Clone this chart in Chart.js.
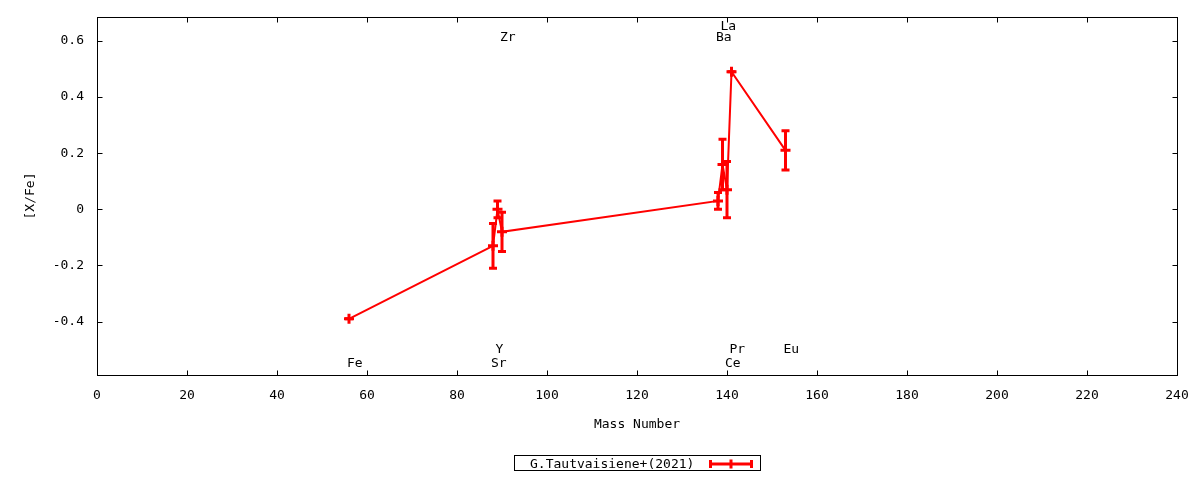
<!DOCTYPE html>
<html>
<head>
<meta charset="utf-8">
<script src="https://cdn.jsdelivr.net/npm/chart.js@4/dist/chart.umd.min.js"></script>
<style>
html,body{margin:0;padding:0;background:#fff;}
#wrap{width:1200px;height:480px;}
</style>
</head>
<body>
<div id="wrap"><canvas id="c" width="1200" height="480"></canvas></div>
<script>
const masses = [56, 88, 89, 90, 138, 139, 140, 141, 153];
const elements = ['Fe', 'Sr', 'Y', 'Zr', 'Ba', 'La', 'Ce', 'Pr', 'Eu'];
const abundances = [-0.39, -0.13, 0.00, -0.08, 0.03, 0.16, 0.07, 0.49, 0.21];
const errors = [0.00, 0.08, 0.03, 0.07, 0.03, 0.09, 0.10, 0.00, 0.07];
const labelLevels = [-0.55, -0.55, -0.5, 0.61, 0.61, 0.65, -0.55, -0.5, -0.5];
const xTicks = [0, 20, 40, 60, 80, 100, 120, 140, 160, 180, 200, 220, 240];
const yTicks = [-0.4, -0.2, 0, 0.2, 0.4, 0.6];
const seriesName = 'G.Tautvaisiene+(2021)';
const xTitle = 'Mass Number';
const yTitle = '[X/Fe]';

const FONT = '"DejaVu Sans Mono", "Liberation Mono", monospace';
const RED = '#ff0000';

const points = masses.map((m, i) => ({x: m, y: abundances[i]}));

const decorPlugin = {
  id: 'decor',
  afterDatasetsDraw(chart) {
    const ctx = chart.ctx;
    const xs = chart.scales.x, ys = chart.scales.y;
    ctx.save();
    ctx.strokeStyle = RED;
    ctx.lineWidth = 3;
    ctx.lineCap = 'butt';
    for (let i = 0; i < masses.length; i++) {
      const px = xs.getPixelForValue(masses[i]);
      const yTop = ys.getPixelForValue(abundances[i] + errors[i]);
      const yBot = ys.getPixelForValue(abundances[i] - errors[i]);
      ctx.beginPath();
      ctx.moveTo(px, yTop); ctx.lineTo(px, yBot);
      ctx.moveTo(px - 4, yTop); ctx.lineTo(px + 4, yTop);
      ctx.moveTo(px - 4, yBot); ctx.lineTo(px + 4, yBot);
      ctx.stroke();
    }
    ctx.restore();
  },
  afterDraw(chart) {
    const ctx = chart.ctx;
    const xs = chart.scales.x, ys = chart.scales.y;
    const a = chart.chartArea;
    ctx.save();
    ctx.strokeStyle = '#000';
    ctx.lineWidth = 1;
    const L = Math.round(a.left) + 0.5, R = Math.round(a.right) + 0.5;
    const T = Math.round(a.top) + 0.5, B = Math.round(a.bottom) + 0.5;
    ctx.strokeRect(L, T, R - L, B - T);
    ctx.beginPath();
    xTicks.forEach(v => {
      const px = Math.round(xs.getPixelForValue(v)) + 0.5;
      ctx.moveTo(px, B); ctx.lineTo(px, B - 5);
      ctx.moveTo(px, T); ctx.lineTo(px, T + 5);
    });
    yTicks.forEach(v => {
      const py = Math.round(ys.getPixelForValue(v)) + 0.5;
      ctx.moveTo(L, py); ctx.lineTo(L + 5, py);
      ctx.moveTo(R, py); ctx.lineTo(R - 5, py);
    });
    ctx.stroke();
    ctx.fillStyle = '#000';
    ctx.font = '13px ' + FONT;
    ctx.textAlign = 'left';
    ctx.textBaseline = 'middle';
    for (let i = 0; i < elements.length; i++) {
      ctx.fillText(elements[i], xs.getPixelForValue(masses[i]) - 2, ys.getPixelForValue(labelLevels[i]));
    }
    ctx.textAlign = 'center';
    ctx.fillText(xTitle, (a.left + a.right) / 2, 425);
    ctx.save();
    ctx.translate(31, (a.top + a.bottom) / 2);
    ctx.rotate(-Math.PI / 2);
    ctx.fillText(yTitle, 0, 0);
    ctx.restore();
    ctx.strokeStyle = '#000';
    ctx.lineWidth = 1;
    ctx.strokeRect(514.5, 455.5, 246, 15);
    ctx.textAlign = 'left';
    ctx.fillText(seriesName, 530, 464.5);
    ctx.strokeStyle = RED;
    ctx.lineWidth = 3;
    ctx.beginPath();
    ctx.moveTo(709, 464); ctx.lineTo(753, 464);
    ctx.moveTo(710.5, 460); ctx.lineTo(710.5, 468);
    ctx.moveTo(751.5, 460); ctx.lineTo(751.5, 468);
    ctx.moveTo(731, 459.5); ctx.lineTo(731, 468.5);
    ctx.stroke();
    ctx.restore();
  }
};

new Chart(document.getElementById('c'), {
  type: 'scatter',
  data: {
    datasets: [{
      label: seriesName,
      data: points,
      showLine: true,
      borderColor: RED,
      backgroundColor: RED,
      borderWidth: 2,
      pointStyle: 'cross',
      pointRadius: 5,
      pointBorderWidth: 3,
      pointBorderColor: RED,
      pointHoverRadius: 5,
      tension: 0
    }]
  },
  plugins: [decorPlugin],
  options: {
    responsive: false,
    animation: false,
    devicePixelRatio: 1,
    layout: {padding: {top: 17, right: 23, left: 0, bottom: 0}},
    plugins: {legend: {display: false}, tooltip: {enabled: false}},
    scales: {
      x: {
        type: 'linear',
        min: 0, max: 240,
        afterBuildTicks: s => { s.ticks = xTicks.map(v => ({value: v})); },
        afterFit: s => { s.height = 105; s.paddingLeft = 0; s.paddingRight = 0; },
        grid: {display: false, drawTicks: false},
        border: {display: false},
        ticks: {
          color: '#000', padding: 13, maxRotation: 0, autoSkip: false,
          font: {family: FONT, size: 13},
          callback: v => String(v)
        }
      },
      y: {
        type: 'linear',
        min: -0.59, max: 0.685,
        afterBuildTicks: s => { s.ticks = yTicks.map(v => ({value: v})); },
        afterFit: s => { s.width = 97; s.paddingTop = 0; s.paddingBottom = 0; },
        grid: {display: false, drawTicks: false},
        border: {display: false},
        ticks: {
          color: '#000', padding: 13, autoSkip: false,
          font: {family: FONT, size: 13},
          callback: v => (Math.abs(v) < 1e-9 ? '0' : String(Math.round(v * 10) / 10))
        }
      }
    }
  }
});
</script>
</body>
</html>
